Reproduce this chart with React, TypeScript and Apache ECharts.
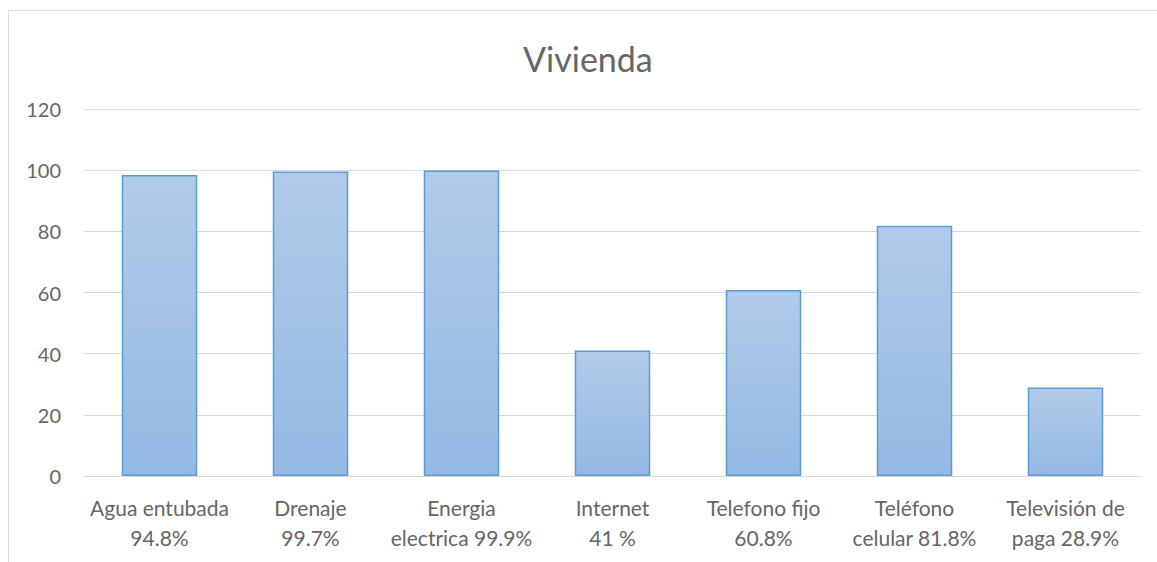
import React, { useEffect, useRef } from "react";
import * as echarts from "echarts";

const titleText = "Vivienda";
const categories = [
  "Agua entubada\n94.8%",
  "Drenaje\n99.7%",
  "Energia\nelectrica 99.9%",
  "Internet\n41 %",
  "Telefono fijo\n60.8%",
  "Teléfono\ncelular 81.8%",
  "Televisión de\npaga 28.9%",
];
const values = [98.4, 99.6, 99.9, 41, 60.8, 81.8, 28.9];
const yMin = 0;
const yMax = 120;
const yInterval = 20;

export default function App() {
  const ref = useRef<HTMLDivElement>(null);
  useEffect(() => {
    if (!ref.current) return;
    const chart = echarts.init(ref.current, null, { renderer: "svg" });
    const font = "Lato, 'Noto Sans', sans-serif";
    const textColor = "#666666";
    chart.setOption({
      animation: false,
      backgroundColor: "#ffffff",
      title: {
        text: titleText,
        left: 518,
        top: 36,
        textStyle: { fontFamily: font, fontSize: 34, fontWeight: "normal", color: textColor },
      },
      graphic: [
        {
          type: "rect",
          shape: { x: 8.5, y: 10.5, width: 1300, height: 700 },
          style: { fill: "none", stroke: "#d9d9d9", lineWidth: 1 },
          silent: true,
        },
      ],
      grid: { left: 84, right: 16, top: 109, bottom: 86, containLabel: false },
      xAxis: {
        type: "category",
        data: categories,
        axisLine: { show: true, lineStyle: { color: "#d9d9d9", width: 1 } },
        axisTick: { show: false },
        axisLabel: {
          interval: 0,
          margin: 16,
          color: textColor,
          fontFamily: font,
          fontSize: 21,
          lineHeight: 30,
        },
      },
      yAxis: {
        type: "value",
        min: yMin,
        max: yMax,
        interval: yInterval,
        axisLine: { show: false },
        axisTick: { show: false },
        splitLine: { lineStyle: { color: "#d9d9d9", width: 1 } },
        axisLabel: { margin: 23, color: textColor, fontFamily: font, fontSize: 20 },
      },
      series: [
        {
          type: "bar",
          data: values,
          barWidth: "50%",
          itemStyle: {
            color: new echarts.graphic.LinearGradient(0, 0, 0, 1, [
              { offset: 0, color: "#b1cbe9" },
              { offset: 1, color: "#94b9e3" },
            ]),
            borderColor: "#5b9bd5",
            borderWidth: 1.5,
          },
        },
      ],
    });
    return () => chart.dispose();
  }, []);
  return (
    <div
      ref={ref}
      style={{ position: "absolute", left: 0, top: 0, width: 1157, height: 562 }}
    />
  );
}
